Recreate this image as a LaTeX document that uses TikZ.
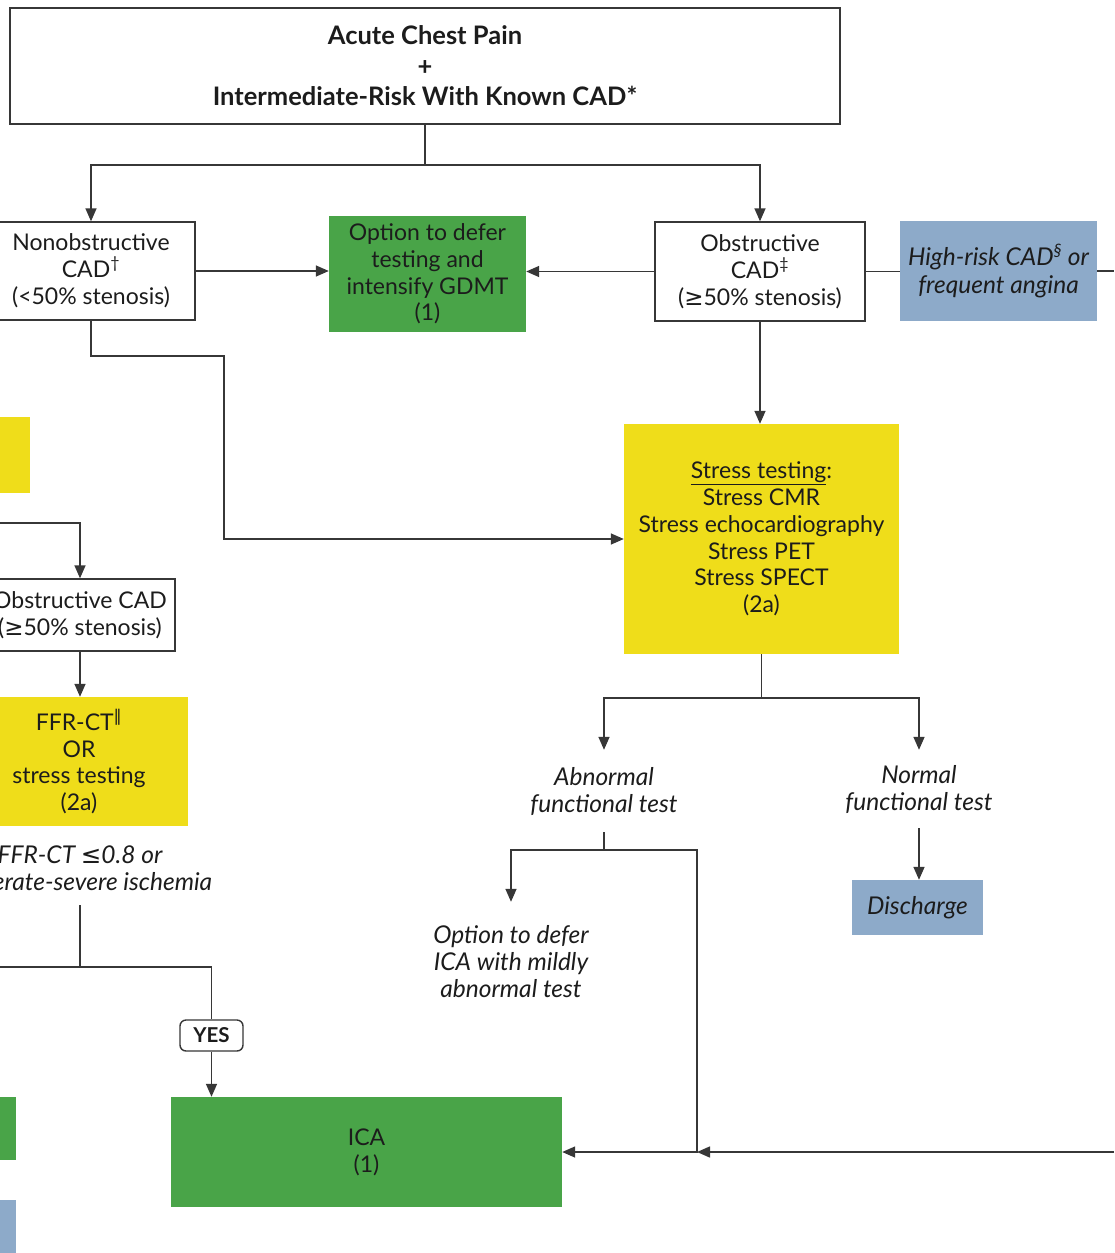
\documentclass[tikz,border=0pt]{standalone}
\usepackage{fontspec}
\setmainfont{Lato}
\newfontfamily\symfont{DejaVu Sans}
\usetikzlibrary{arrows.meta}

\definecolor{boxgreen}{RGB}{73,164,72}
\definecolor{boxyellow}{RGB}{239,221,26}
\definecolor{boxblue}{RGB}{141,170,201}
\definecolor{linegray}{RGB}{55,55,55}
\definecolor{txt}{RGB}{28,28,28}

\newcommand{\sym}[1]{{\symfont #1}}

\tikzset{
  base/.style={inner sep=0pt, align=center, text=txt,
    font=\fontsize{23}{26.8}\selectfont},
  whitebox/.style={base, draw=linegray, line width=1.4pt, fill=white},
  greenbox/.style={base, fill=boxgreen},
  yellowbox/.style={base, fill=boxyellow},
  bluebox/.style={base, fill=boxblue, font=\itshape\fontsize{24.5}{27.5}\selectfont},
  label/.style={base, font=\itshape\fontsize{24.5}{27}\selectfont},
  conn/.style={draw=linegray, line width=1.5pt},
  arr/.style={conn, -{Triangle[length=13pt,width=11pt]}},
}

\begin{document}
\begin{tikzpicture}[x=1pt,y=-1pt]
\clip (0,0) rectangle (1114,1253);
\fill[white] (0,0) rectangle (1114,1253);

% entry box
\node[whitebox, minimum width=830pt, minimum height=116pt,
  font=\bfseries\fontsize{25.5}{30.5}\selectfont] (top) at (425,66)
  {Acute Chest Pain\\+\\Intermediate-Risk With Known CAD*};

% first split
\node[whitebox, minimum width=208pt, minimum height=98pt] (nonob) at (91,271)
  {Nonobstructive\\CAD\textsuperscript{\dag}\\(<50\% stenosis)};
\node[greenbox, minimum width=197pt, minimum height=116pt] (defer) at (427.5,274)
  {Option to defer\\testing and\\intensify GDMT\\(1)};
\node[whitebox, minimum width=210pt, minimum height=99pt] (obs) at (760,271.5)
  {Obstructive\\CAD\textsuperscript{\ddag}\\(\sym{≥}50\% stenosis)};
\node[bluebox, minimum width=197pt, minimum height=100pt] (hr) at (998.5,271)
  {High-risk CAD\textsuperscript{\S} or\\frequent angina};

% left column
\node[yellowbox, minimum width=200pt, minimum height=76pt] (ycut) at (-70,455) {};
\node[whitebox, minimum width=190pt, minimum height=72pt] (obsL) at (80,615)
  {Obstructive CAD\\(\sym{≥}50\% stenosis)};
\node[yellowbox, minimum width=218pt, minimum height=129pt] (ffr) at (79,761.5)
  {FFR-CT\textsuperscript{\sym{‖}}\\OR\\stress testing\\(2a)};
\node[label, minimum height=74pt] (ffrres) at (80,868)
  {FFR-CT \sym{≤}0.8 or\\moderate-severe ischemia};
\node[draw=linegray, line width=1.4pt, fill=white, rounded corners=6pt,
  minimum width=63pt, minimum height=31pt, inner sep=0pt, text=txt,
  font=\bfseries\fontsize{20.5}{22}\selectfont] (yes) at (211.5,1035.5) {YES};
\node[greenbox, minimum width=200pt, minimum height=63pt] (gcut) at (-84,1128.5) {};
\node[bluebox, minimum width=200pt, minimum height=80pt] (bcut) at (-84,1240) {};
\node[greenbox, minimum width=391pt, minimum height=110pt] (ica) at (366.5,1152)
  {ICA\\(1)};

% right column
\node[yellowbox, minimum width=275pt, minimum height=230pt] (stress) at (761.5,539)
  {\underline{Stress testing}:\\Stress CMR\\Stress echocardiography\\Stress PET\\Stress SPECT\\(2a)};
\node[label, minimum height=82pt] (abn) at (604,791)
  {Abnormal\\functional test};
\node[label, minimum height=78pt] (norm) at (919,789)
  {Normal\\functional test};
\node[label, minimum height=120pt] (deferica) at (511,962)
  {Option to defer\\ICA with mildly\\abnormal test};
\node[bluebox, minimum width=131pt, minimum height=55pt] (dis) at (917.5,907.5)
  {Discharge};

% junctions and free ends
\coordinate (s1) at (425,165);
\coordinate (j1) at (224,356);
\coordinate (lin) at (0,523);
\coordinate (j2) at (80,967);
\coordinate (lin2) at (0,967);
\coordinate (j3) at (761.5,698);
\coordinate (j4) at (604,850);
\coordinate (j5) at (697,1152);
\coordinate (rin) at (1114,1152);
\coordinate (hrout) at (1114,271);

% connectors
\draw[conn] (top.south) -- (s1);
\draw[arr] (s1) -| (nonob.north);
\draw[arr] (s1) -| (obs.north);
\draw[arr] (nonob.east) -- (nonob.east -| defer.west);
\draw[arr] (obs.west) -- (obs.west -| defer.east);
\draw[conn] (obs.east) -- (obs.east -| hr.west);
\draw[conn] (hr.east) -- (hrout);
\draw[arr] (nonob.south) |- (j1) |- (stress.west);
\draw[arr] (lin) -| (obsL.north);
\draw[arr] (obsL.south) -- (obsL.south |- ffr.north);
\draw[conn] (ffrres.south) -- (j2);
\draw[conn] (lin2) -| (yes.north);
\draw[arr] (yes.south) -- (yes.south |- ica.north);
\draw[arr] (obs.south) -- (obs.south |- stress.north);
\draw[conn] (stress.south) -- (j3);
\draw[arr] (j3) -| (abn.north);
\draw[arr] (j3) -| (norm.north);
\draw[conn] (abn.south) -- (j4);
\draw[arr] (j4) -| (deferica.north);
\draw[arr] (j4) -| (j5) -- (ica.east);
\draw[arr] (rin) -- (j5);
\draw[arr] (norm.south) -- (norm.south |- dis.north);
\end{tikzpicture}
\end{document}
